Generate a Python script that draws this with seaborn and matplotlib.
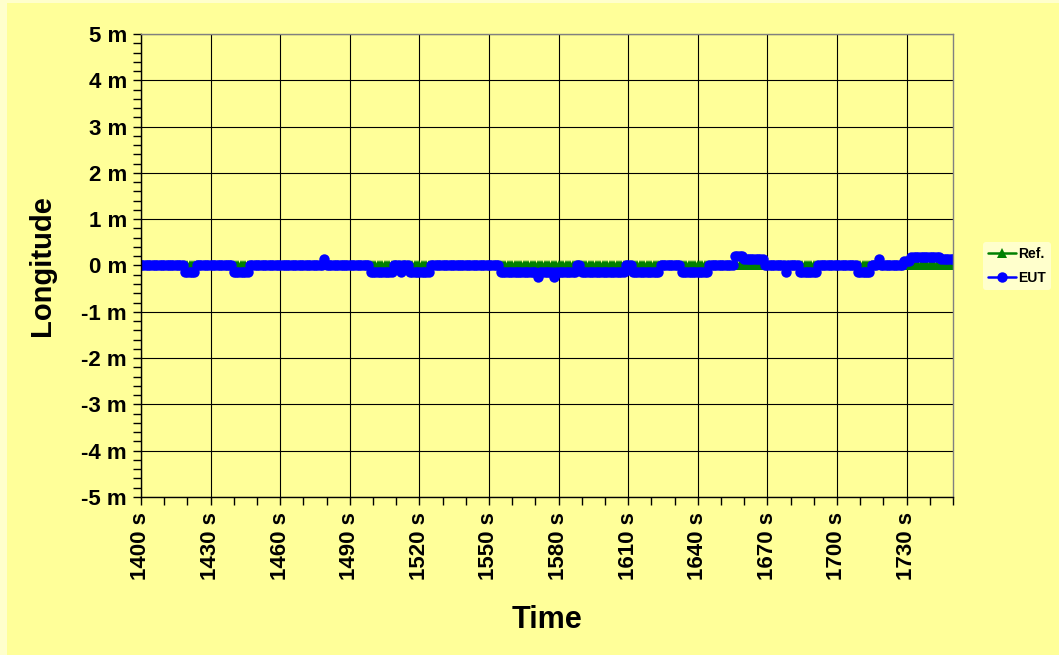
import numpy as np
import pandas as pd
import matplotlib
matplotlib.use("Agg")
import matplotlib.pyplot as plt
from matplotlib.patches import Rectangle
from matplotlib.ticker import MultipleLocator, FixedLocator, FuncFormatter
import seaborn as sns

# time axis, 1 s samples
time_s = np.arange(1400, 1751)
x_ticks = [1400, 1430, 1460, 1490, 1520, 1550, 1580, 1610, 1640, 1670, 1700, 1730]

# reference track sits on the zero line the whole time
ref_segments = [(1400, 1750, 0.0)]

# EUT longitude error as (start s, end s, metres)
eut_segments = [
    (1400, 1418, 0.0), (1419, 1423, -0.14), (1424, 1439, 0.0),
    (1440, 1446, -0.14), (1447, 1478, 0.0), (1479, 1479, 0.15),
    (1480, 1498, 0.0), (1499, 1508, -0.14), (1509, 1511, 0.0),
    (1512, 1512, -0.14), (1513, 1515, 0.0), (1516, 1524, -0.14),
    (1525, 1554, 0.0), (1555, 1570, -0.14), (1571, 1571, -0.25),
    (1572, 1577, -0.14), (1578, 1578, -0.25), (1579, 1587, -0.14),
    (1588, 1589, 0.0), (1590, 1608, -0.14), (1609, 1611, 0.0),
    (1612, 1623, -0.14), (1624, 1632, 0.0), (1633, 1644, -0.14),
    (1645, 1655, 0.0), (1656, 1659, 0.2), (1660, 1668, 0.13),
    (1669, 1677, 0.0), (1678, 1678, -0.14), (1679, 1683, 0.0),
    (1684, 1691, -0.14), (1692, 1708, 0.0), (1709, 1714, -0.14),
    (1715, 1717, 0.0), (1718, 1718, 0.15), (1719, 1728, 0.0),
    (1729, 1731, 0.1), (1732, 1744, 0.18), (1745, 1750, 0.14),
]


def expand(segments):
    vals = []
    for start, end, v in segments:
        vals += [v] * (end - start + 1)
    return np.array(vals)


ref_m = expand(ref_segments)
eut_m = expand(eut_segments)

sns.set_style("white")
plt.rcParams['font.family'] = ['Liberation Sans', 'DejaVu Sans']
plt.rcParams['font.weight'] = 'bold'
plt.rcParams['text.color'] = 'black'
plt.rcParams['xtick.color'] = 'black'
plt.rcParams['ytick.color'] = 'black'
plt.rcParams['axes.labelcolor'] = 'black'

fig = plt.figure(figsize=(10.59, 6.55), dpi=100)
fig.patch.set_facecolor('#FFFFCC')
fig.patches.append(Rectangle((7 / 1059, 0), 1 - 7 / 1059, 1 - 3 / 655,
                             transform=fig.transFigure, facecolor='#FFFF99',
                             edgecolor='none', zorder=-10))

ax = fig.add_axes([141 / 1059, 1 - 497 / 655, (953 - 141) / 1059, (497 - 34) / 655])
ax.set_facecolor('#FFFF99')

sns.lineplot(x=time_s, y=ref_m, ax=ax, color='#008000', marker='^',
             markersize=6.5, markeredgewidth=0, linewidth=1.8, label='Ref.')
sns.lineplot(x=time_s, y=eut_m, ax=ax, color='#0000FF', marker='o',
             markersize=7.5, markeredgewidth=0, linewidth=1.8, label='EUT')

ax.set_xlim(1400, 1750)
ax.set_ylim(-5, 5)
ax.xaxis.set_major_locator(FixedLocator(x_ticks))
ax.xaxis.set_minor_locator(MultipleLocator(10))
ax.yaxis.set_major_locator(MultipleLocator(1))
ax.yaxis.set_minor_locator(MultipleLocator(0.2))
ax.xaxis.set_major_formatter(FuncFormatter(lambda v, p: f"{v:.0f} s"))
ax.yaxis.set_major_formatter(FuncFormatter(lambda v, p: f"{v:.0f} m"))

ax.grid(True, which='major', color='black', linewidth=0.8)
ax.set_axisbelow(True)
ax.tick_params(axis='both', which='both', direction='out', length=6,
               width=1, color='black', labelsize=16)
ax.tick_params(axis='x', which='major', labelrotation=90, pad=5)
ax.tick_params(axis='y', which='both', left=True, pad=4)
ax.tick_params(axis='x', which='both', bottom=True)

for side in ['left', 'bottom']:
    ax.spines[side].set_color('black')
    ax.spines[side].set_linewidth(1)
for side in ['top', 'right']:
    ax.spines[side].set_color('#808080')
    ax.spines[side].set_linewidth(1)

ax.set_xlabel('Time', fontsize=22, fontweight='bold')
ax.set_ylabel('Longitude', fontsize=21, fontweight='bold')
ax.xaxis.set_label_coords(0.5, (497 - 620) / 463)
ax.yaxis.set_label_coords((42 - 141) / 812, 0.5)
ax.xaxis.label.set_va('center')
ax.yaxis.label.set_va('center')

leg = ax.legend(loc='center left', bbox_to_anchor=(983 / 1059, 1 - 266 / 655),
                bbox_transform=fig.transFigure, frameon=True, fontsize=10,
                handlelength=2.0, handletextpad=0.2, borderpad=0.35,
                borderaxespad=0, labelspacing=0.7)
leg.get_frame().set_facecolor('#FFFFCC')
leg.get_frame().set_edgecolor('none')
leg.get_frame().set_alpha(1)
for txt in leg.get_texts():
    txt.set_fontweight('bold')

fig.savefig('out.png', dpi=100, facecolor=fig.get_facecolor())
